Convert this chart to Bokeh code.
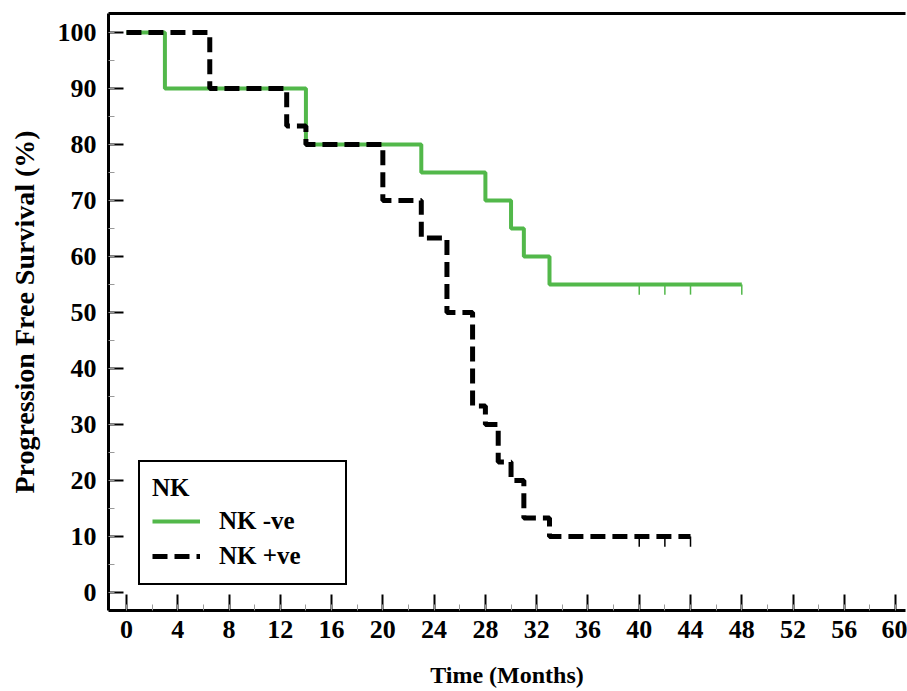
from bokeh.plotting import figure
from bokeh.models import Range1d, FixedTicker, LinearAxis, Legend, LegendItem
from bokeh.embed import file_html
from bokeh.resources import INLINE

# NK -ve (green, solid)
neg_t = [0, 3, 14, 23, 28, 30, 31, 33, 48]
neg_s = [100, 90, 80, 75, 70, 65, 60, 55, 55]
neg_cens_t = [40, 42, 44, 48]
neg_cens_s = [55, 55, 55, 55]

# NK +ve (black, dashed)
pos_t = [0, 6.5, 12.5, 14, 20, 23, 25, 27, 28, 29, 30, 31, 33, 44]
pos_s = [100, 90, 83.3, 80, 70, 63.3, 50, 33.3, 30, 23.3, 20, 13.3, 10, 10]
pos_cens_t = [40, 42, 44]
pos_cens_s = [10, 10, 10]

x_ticks = list(range(0, 61, 4))
y_ticks = list(range(0, 101, 10))

FONT = "Liberation Serif"
GREEN = "#52b84a"
CENS_LEN = 1.8

p = figure(width=907, height=691, output_backend="svg", toolbar_location=None,
           x_range=Range1d(-1.4, 60.77), y_range=Range1d(-3.2, 103.4),
           min_border_left=108, min_border_right=2, min_border_top=13, min_border_bottom=81)
p.xgrid.visible = False
p.ygrid.visible = False
p.outline_line_color = None
p.background_fill_color = "white"
p.border_fill_color = "white"

r_neg = p.step(neg_t, neg_s, mode="after", line_color=GREEN, line_width=4)
r_pos = p.step(pos_t, pos_s, mode="after", line_color="black", line_width=5, line_dash="15 7")
p.segment(x0=neg_cens_t, y0=neg_cens_s, x1=neg_cens_t, y1=[s - CENS_LEN for s in neg_cens_s],
          line_color=GREEN, line_width=1.5)
p.segment(x0=pos_cens_t, y0=pos_cens_s, x1=pos_cens_t, y1=[s - CENS_LEN for s in pos_cens_s],
          line_color="black", line_width=1.5)

for ax in (p.xaxis[0], p.yaxis[0]):
    ax.axis_line_width = 3
    ax.axis_line_color = "black"
    ax.major_tick_line_color = "black"
    ax.major_tick_line_width = 2
    ax.major_tick_out = 0
    ax.minor_tick_out = 0
    ax.minor_tick_line_color = "#9a9a9a"
    ax.minor_tick_line_width = 1
    ax.major_label_text_font = FONT
    ax.major_label_text_font_style = "bold"
    ax.major_label_text_font_size = "26px"
    ax.major_label_text_color = "black"
    ax.axis_label_text_font = FONT
    ax.axis_label_text_font_style = "bold"
    ax.axis_label_text_color = "black"

p.xaxis[0].ticker = FixedTicker(ticks=x_ticks, minor_ticks=list(range(0, 61, 2)))
p.yaxis[0].ticker = FixedTicker(ticks=y_ticks, minor_ticks=list(range(0, 101, 5)))
p.xaxis[0].major_tick_in = 16
p.xaxis[0].minor_tick_in = 6
p.yaxis[0].major_tick_in = 15
p.yaxis[0].minor_tick_in = 6
p.xaxis[0].major_label_standoff = 10
p.yaxis[0].major_label_standoff = 12
p.xaxis[0].axis_label = "Time (Months)"
p.yaxis[0].axis_label = "Progression Free Survival (%)"
p.xaxis[0].axis_label_text_font_size = "24px"
p.yaxis[0].axis_label_text_font_size = "28px"
p.xaxis[0].axis_label_standoff = 21
p.yaxis[0].axis_label_standoff = 15

top = LinearAxis(major_tick_in=0, major_tick_out=0, minor_tick_in=0, minor_tick_out=0,
                 major_label_text_font_size="0px", axis_line_width=3, axis_line_color="black")
top.ticker = FixedTicker(ticks=[])
p.add_layout(top, "above")

legend = Legend(items=[LegendItem(label="NK -ve", renderers=[r_neg]),
                       LegendItem(label="NK +ve", renderers=[r_pos])],
                location=(30, 25), title="NK")
legend.title_text_font = FONT
legend.title_text_font_style = "bold"
legend.title_text_font_size = "25px"
legend.title_text_color = "black"
legend.title_standoff = 4
legend.label_text_font = FONT
legend.label_text_font_style = "bold"
legend.label_text_font_size = "25px"
legend.label_text_color = "black"
legend.border_line_color = "black"
legend.border_line_alpha = 1
legend.border_line_width = 2
legend.background_fill_alpha = 1
legend.padding = 12
legend.spacing = 5
legend.glyph_width = 48
legend.glyph_height = 30
legend.label_height = 30
legend.label_width = 114
legend.label_standoff = 19
legend.margin = 0
p.add_layout(legend, "center")

open("out.html", "w").write(file_html(p, INLINE))
